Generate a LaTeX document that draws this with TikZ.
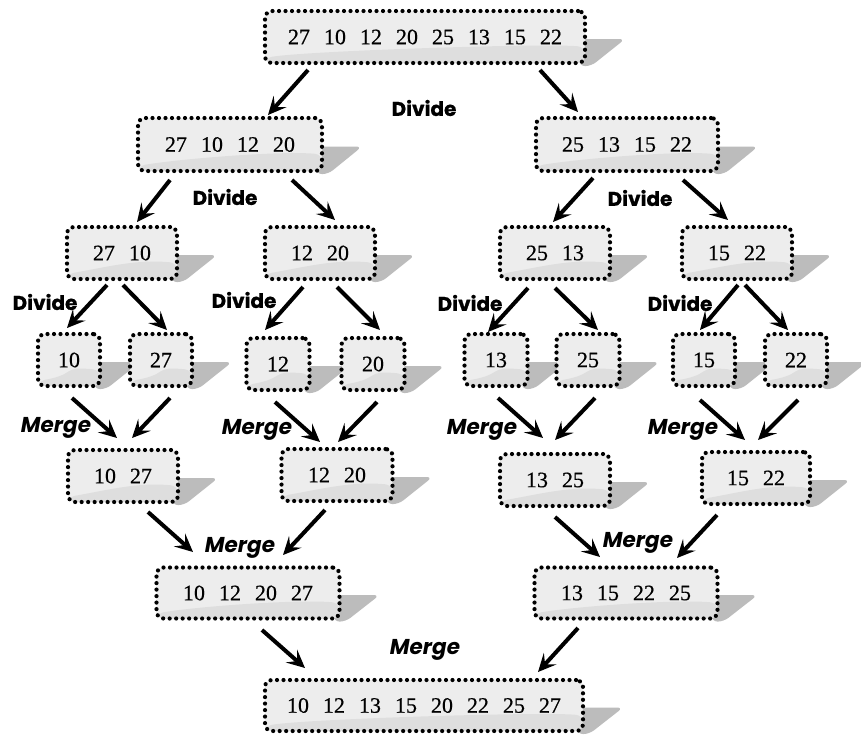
\documentclass[tikz,border=0pt]{standalone}
\usepackage{fontspec}
\setmainfont{Liberation Serif}
\newfontfamily\numfont{Liberation Serif}[FakeBold=0.5]
\newfontfamily\lblfont{Poppins}[BoldFeatures={FakeBold=0.6}]
\usetikzlibrary{arrows.meta,backgrounds}
\definecolor{boxlight}{RGB}{237,237,237}
\definecolor{boxdark}{RGB}{222,222,222}
\definecolor{castshade}{RGB}{188,188,188}
\newcommand\gp{\hspace{14pt}}

\begin{document}
\begin{tikzpicture}[x=1pt,y=-1pt,
  numbox/.style={draw, line width=4.2pt, dash pattern=on 0pt off 6.5pt,
    line cap=round, rounded corners=7pt, fill=boxlight,
    minimum height=52pt, inner sep=0pt,
    font=\numfont\fontsize{22}{22}\selectfont,
    path picture={
      \fill[boxdark]
        ([yshift=5pt]path picture bounding box.south west)
        .. controls ([shift={(40pt,12pt)}]path picture bounding box.south west)
        and ([shift={(-40pt,-6pt)}]path picture bounding box.east)
        .. ([yshift=-10pt]path picture bounding box.east)
        -- (path picture bounding box.south east)
        -- (path picture bounding box.south west) -- cycle;}},
  divlbl/.style={font=\lblfont\bfseries\fontsize{20}{20}\selectfont},
  mrglbl/.style={font=\lblfont\bfseries\itshape\fontsize{21.5}{21.5}\selectfont},
  arr/.style={line width=4pt, -{Stealth[length=18pt,width=17pt,inset=7.5pt]}},
  castshadow/.style={fill=castshade, rounded corners=6pt}
]
\useasboundingbox (0,0) rectangle (861,734);

% level 0
\node[numbox, minimum width=320pt] (top) at (425,37) {27\gp10\gp12\gp20\gp25\gp13\gp15\gp22};
% level 1
\node[numbox, minimum width=184pt, minimum height=53pt] (l1a) at (230,144.5) {27\gp10\gp12\gp20};
\node[numbox, minimum width=182pt, minimum height=53pt] (l1b) at (627,144.5) {25\gp13\gp15\gp22};
% level 2
\node[numbox, minimum width=110pt] (l2a) at (122,253) {27\gp10};
\node[numbox, minimum width=110pt] (l2b) at (320,253) {12\gp20};
\node[numbox, minimum width=110pt] (l2c) at (555,253) {25\gp13};
\node[numbox, minimum width=110pt] (l2d) at (737,253) {15\gp22};
% level 3
\node[numbox, minimum width=62pt] (l3a) at (69,360) {10};
\node[numbox, minimum width=62pt] (l3b) at (161,360) {27};
\node[numbox, minimum width=63pt] (l3c) at (278,364) {12};
\node[numbox, minimum width=63pt] (l3d) at (373,364) {20};
\node[numbox, minimum width=63pt] (l3e) at (496,360) {13};
\node[numbox, minimum width=63pt] (l3f) at (588,360) {25};
\node[numbox, minimum width=62pt] (l3g) at (704,360) {15};
\node[numbox, minimum width=62pt] (l3h) at (796,360) {22};
% level 4
\node[numbox, minimum width=110pt] (m1) at (123,476) {10\gp27};
\node[numbox, minimum width=111pt] (m2) at (337,475) {12\gp20};
\node[numbox, minimum width=110pt] (m3) at (555,480) {13\gp25};
\node[numbox, minimum width=108pt] (m4) at (756,478) {15\gp22};
% level 5
\node[numbox, minimum width=183pt, minimum height=51pt] (s1) at (248,593) {10\gp12\gp20\gp27};
\node[numbox, minimum width=183pt, minimum height=51pt] (s2) at (626,593) {13\gp15\gp22\gp25};
% level 6
\node[numbox, minimum width=318pt, minimum height=51pt] (fin) at (424,705.5) {10\gp12\gp13\gp15\gp20\gp22\gp25\gp27};

% cast shadows behind the boxes
\begin{scope}[on background layer]
  \fill[white] (0,0) rectangle (861,734);
  \foreach \n in {top,l1a,l1b,l2a,l2b,l2c,l2d,l3a,l3b,l3c,l3d,l3e,l3f,l3g,l3h,m1,m2,m3,m4,s1,s2,fin}{
    \path[castshadow] ([shift={(-8pt,-2pt)}]\n.east) -- ([shift={(38pt,-2pt)}]\n.east)
      -- ([shift={(4pt,-1pt)}]\n.south east) -- ([shift={(-8pt,-1pt)}]\n.south east) -- cycle;
  }
\end{scope}

% divide arrows
\draw[arr] ([shift={(-117,33)}]top.center) -- ([shift={(38,-29.5)}]l1a.center);
\draw[arr] ([shift={(115,33)}]top.center) -- ([shift={(-49,-32.5)}]l1b.center);
\draw[arr] ([shift={(-60,35.5)}]l1a.center) -- ([shift={(15,-31)}]l2a.center);
\draw[arr] ([shift={(62,35.5)}]l1a.center) -- ([shift={(15,-33)}]l2b.center);
\draw[arr] ([shift={(-34,33.5)}]l1b.center) -- ([shift={(-2,-31)}]l2c.center);
\draw[arr] ([shift={(56,35.5)}]l1b.center) -- ([shift={(-9,-33)}]l2d.center);
\draw[arr] ([shift={(-15,32)}]l2a.center) -- ([shift={(-2,-32)}]l3a.center);
\draw[arr] ([shift={(1,32)}]l2a.center) -- ([shift={(6,-30)}]l3b.center);
\draw[arr] ([shift={(-17,34)}]l2b.center) -- ([shift={(-13,-34)}]l3c.center);
\draw[arr] ([shift={(17,34)}]l2b.center) -- ([shift={(7,-34)}]l3d.center);
\draw[arr] ([shift={(-27,35)}]l2c.center) -- ([shift={(-8,-28)}]l3e.center);
\draw[arr] ([shift={(0,35)}]l2c.center) -- ([shift={(10,-30)}]l3f.center);
\draw[arr] ([shift={(1,32)}]l2d.center) -- ([shift={(-4,-30)}]l3g.center);
\draw[arr] ([shift={(8,32)}]l2d.center) -- ([shift={(-8,-30)}]l3h.center);

% merge arrows
\draw[arr] ([shift={(3,38)}]l3a.center) -- ([shift={(-6,-38)}]m1.center);
\draw[arr] ([shift={(9,38)}]l3b.center) -- ([shift={(9,-38)}]m1.center);
\draw[arr] ([shift={(-3,38)}]l3c.center) -- ([shift={(-17,-33)}]m2.center);
\draw[arr] ([shift={(4,38)}]l3d.center) -- ([shift={(1,-33)}]m2.center);
\draw[arr] ([shift={(2,38)}]l3e.center) -- ([shift={(-12,-42)}]m3.center);
\draw[arr] ([shift={(7,38)}]l3f.center) -- ([shift={(0,-40)}]m3.center);
\draw[arr] ([shift={(-4,40)}]l3g.center) -- ([shift={(-11,-38)}]m4.center);
\draw[arr] ([shift={(2,40)}]l3h.center) -- ([shift={(2,-38)}]m4.center);
\draw[arr] ([shift={(25,36)}]m1.center) -- ([shift={(-55,-41)}]s1.center);
\draw[arr] ([shift={(-12,35)}]m2.center) -- ([shift={(35,-38)}]s1.center);
\draw[arr] ([shift={(0,37)}]m3.center) -- ([shift={(-26,-36)}]s2.center);
\draw[arr] ([shift={(-39,37)}]m4.center) -- ([shift={(51,-35)}]s2.center);
\draw[arr] ([shift={(14,37)}]s1.center) -- ([shift={(-119,-37.5)}]fin.center);
\draw[arr] ([shift={(-48,35)}]s2.center) -- ([shift={(114,-33.5)}]fin.center);

% step labels
\node[divlbl] (d0) at (424,108) {Divide};
\node[divlbl] (d1) at (225,197) {Divide};
\node[divlbl] (d2) at (640,198) {Divide};
\node[divlbl] (d3) at (45,302) {Divide};
\node[divlbl] (d4) at (244,300) {Divide};
\node[divlbl] (d5) at (470,303) {Divide};
\node[divlbl] (d6) at (680,303) {Divide};
\node[mrglbl] (g1) at (56,428) {Merge};
\node[mrglbl] (g2) at (257,430) {Merge};
\node[mrglbl] (g3) at (482,430) {Merge};
\node[mrglbl] (g4) at (683,430) {Merge};
\node[mrglbl] (g5) at (240,548) {Merge};
\node[mrglbl] (g6) at (638,543) {Merge};
\node[mrglbl] (g7) at (425,650) {Merge};
\end{tikzpicture}
\end{document}
